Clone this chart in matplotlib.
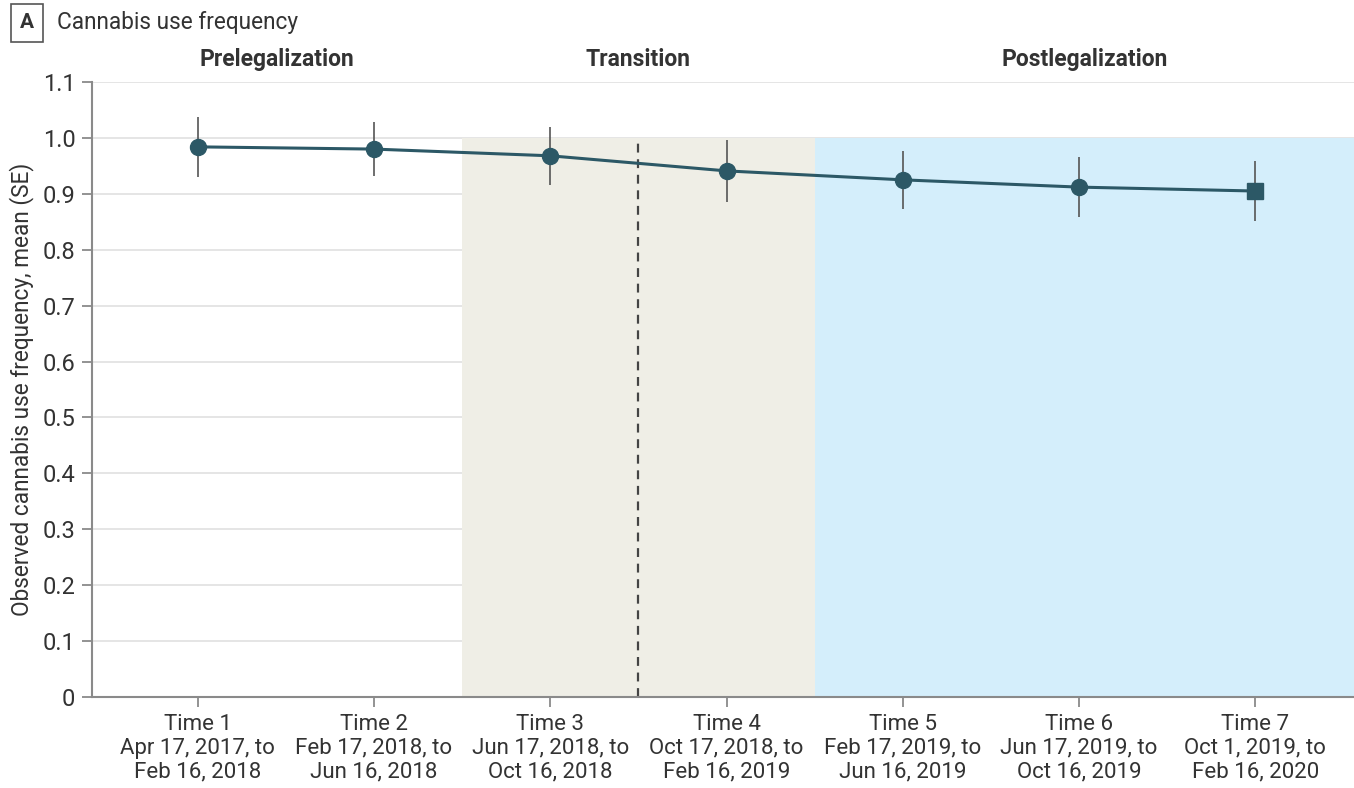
import matplotlib
matplotlib.use("Agg")
import matplotlib.pyplot as plt
from matplotlib.patches import Rectangle

plt.rcParams['font.family'] = ['Roboto', 'DejaVu Sans']

# Observed cannabis use frequency, by survey wave
times = [1, 2, 3, 4, 5, 6, 7]
means = [0.984, 0.980, 0.968, 0.941, 0.925, 0.912, 0.905]
se = [0.054, 0.048, 0.052, 0.055, 0.052, 0.053, 0.053]
tick_labels = [
    "Time 1\nApr 17, 2017, to\nFeb 16, 2018",
    "Time 2\nFeb 17, 2018, to\nJun 16, 2018",
    "Time 3\nJun 17, 2018, to\nOct 16, 2018",
    "Time 4\nOct 17, 2018, to\nFeb 16, 2019",
    "Time 5\nFeb 17, 2019, to\nJun 16, 2019",
    "Time 6\nJun 17, 2019, to\nOct 16, 2019",
    "Time 7\nOct 1, 2019, to\nFeb 16, 2020",
]
phases = ["Prelegalization", "Transition", "Postlegalization"]
phase_bounds = [0.4, 2.5, 4.5, 7.56]
legalization = 3.5
y_ticks = [0, 0.1, 0.2, 0.3, 0.4, 0.5, 0.6, 0.7, 0.8, 0.9, 1.0, 1.1]
y_tick_labels = ["0", "0.1", "0.2", "0.3", "0.4", "0.5", "0.6", "0.7", "0.8", "0.9", "1.0", "1.1"]

line_color = "#2c5866"
text_color = "#333333"
axis_color = "#8a8a8a"

fig = plt.figure(figsize=(13.54, 7.88), dpi=100)
ax = fig.add_axes([92 / 1354, 91 / 788, 1 - 92 / 1354, 615 / 788])
ax.set_xlim(phase_bounds[0], phase_bounds[-1])
ax.set_ylim(0, 1.1)

# gridlines
for yv in y_ticks[1:]:
    ax.axhline(yv, color="#e3e3e3", lw=1.3, zorder=0)

# phase shading
ax.add_patch(Rectangle((phase_bounds[1], 0), phase_bounds[2] - phase_bounds[1], 1.0,
                       facecolor="#efeee6", edgecolor="none", zorder=1))
ax.add_patch(Rectangle((phase_bounds[2], 0), phase_bounds[3] - phase_bounds[2], 1.0,
                       facecolor="#d4eefb", edgecolor="none", zorder=1))
ax.plot([legalization, legalization], [0, 1.0], color="#444444", lw=1.6,
        linestyle=(0, (4, 3)), zorder=2)

# series
ax.errorbar(times, means, yerr=se, fmt="none", ecolor="#555555", elinewidth=1.2, zorder=3)
ax.plot(times, means, color=line_color, lw=2.2, zorder=4)
ax.plot(times[:-1], means[:-1], "o", color=line_color, markersize=11.5, zorder=5)
ax.plot(times[-1:], means[-1:], "s", color=line_color, markersize=11, zorder=5)

# axes styling
for s in ["top", "right"]:
    ax.spines[s].set_visible(False)
for s in ["left", "bottom"]:
    ax.spines[s].set_color(axis_color)
    ax.spines[s].set_linewidth(1.5)
ax.set_yticks(y_ticks)
ax.set_yticklabels(y_tick_labels, fontsize=17)
ax.set_xticks(times)
ax.set_xticklabels(tick_labels, linespacing=1.18, fontsize=16)
ax.tick_params(axis="both", colors=axis_color, labelcolor=text_color,
               length=7, width=1.3)
ax.tick_params(axis="y", pad=5)
ax.tick_params(axis="x", pad=5)
ax.set_ylabel("Observed cannabis use frequency, mean (SE)", fontsize=16.3,
              color=text_color, labelpad=6)

# phase headers
for name, lo, hi in zip(phases, phase_bounds[:-1], phase_bounds[1:]):
    ax.text((lo + hi) / 2, 1.14, name, ha="center", va="center", fontsize=16.5,
            fontweight="bold", color=text_color, transform=ax.transData, clip_on=False)

# panel title
fig.text(27 / 1354, 1 - 23 / 788, "A", ha="center", va="center", fontsize=15,
         fontweight="bold", color=text_color,
         bbox=dict(boxstyle="square,pad=0.45", facecolor="white", edgecolor="#555555", lw=1.2))
fig.text(57 / 1354, 1 - 22 / 788, "Cannabis use frequency", ha="left", va="center",
         fontsize=16.3, color=text_color)

fig.savefig("out.png", dpi=100)
